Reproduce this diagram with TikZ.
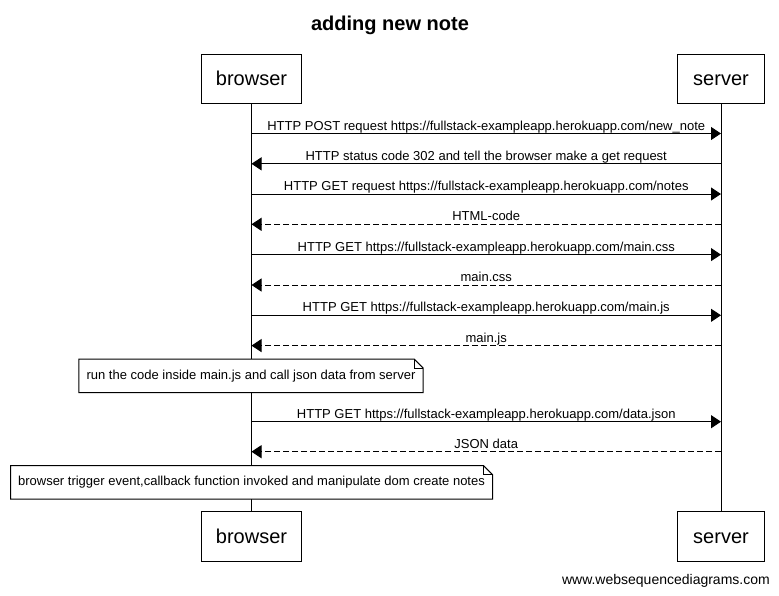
\documentclass[tikz,border=0pt]{standalone}
\usepackage{fontspec}
\setmainfont{Liberation Sans}
\usetikzlibrary{arrows.meta}
\tikzset{
  every picture/.style={x=1pt,y=-1pt},
  actor/.style={draw,line width=1pt,fill=white,minimum height=49.5pt,inner sep=0pt,
    font=\fontsize{20}{24}\selectfont,text height=14pt,text depth=0pt},
  life/.style={line width=1pt},
  msg/.style={line width=1pt,-{Triangle[length=10pt,width=13pt]}},
  reply/.style={msg,dash pattern=on 6pt off 3pt},
  lbl/.style={midway,anchor=base,yshift=3.5pt,inner sep=0pt,font=\fontsize{13}{15}\selectfont},
  notebox/.style={inner sep=0pt,font=\fontsize{13}{15}\selectfont,minimum height=33pt},
}
\newcommand{\notefold}[1]{%
  \draw[line width=1pt,fill=white] (#1.south west) -- (#1.south east) -- ([yshift=-9pt]#1.north east)
    -- ([xshift=-9pt]#1.north east) -- (#1.north west) -- cycle;
  \draw[line width=0.8pt] ([xshift=-9pt]#1.north east) |- ([yshift=-9pt]#1.north east);
}
\begin{document}
\begin{tikzpicture}
\useasboundingbox[fill=white] (0,0) rectangle (779,595);
% title
\node[anchor=base,inner sep=0pt,font=\fontsize{20}{24}\selectfont\bfseries] (title) at (390,30.7) {adding new note};
% participants
\node[actor,minimum width=99.5pt] (btop) at (251.5,78.75) {browser};
\node[actor,minimum width=86.5pt] (stop) at (721,78.75) {server};
\node[actor,minimum width=99.5pt] (bbot) at (251.5,536.5) {browser};
\node[actor,minimum width=86.5pt] (sbot) at (721,536.5) {server};
% lifelines
\draw[life] (btop.south) -- (bbot.north);
\draw[life] (stop.south) -- (sbot.north);
% message end points
\foreach \i/\y in {1/133.5,2/163.8,3/194,4/224.3,5/254.6,6/285,7/315.3,8/345.6,9/421.7,10/451.7}{
  \coordinate (b\i) at (251.5,\y);
  \coordinate (s\i) at (721,\y);
}
\draw[msg] (b1) -- node[lbl] {HTTP POST request https://fullstack-exampleapp.herokuapp.com/new\_note} (s1);
\draw[msg] (s2) -- node[lbl] {HTTP status code 302 and tell the browser make a get request} (b2);
\draw[msg] (b3) -- node[lbl] {HTTP GET request https://fullstack-exampleapp.herokuapp.com/notes} (s3);
\draw[reply] (s4) -- node[lbl] {HTML-code} (b4);
\draw[msg] (b5) -- node[lbl] {HTTP GET https://fullstack-exampleapp.herokuapp.com/main.css} (s5);
\draw[reply] (s6) -- node[lbl] {main.css} (b6);
\draw[msg] (b7) -- node[lbl] {HTTP GET https://fullstack-exampleapp.herokuapp.com/main.js} (s7);
\draw[reply] (s8) -- node[lbl] {main.js} (b8);
% note 1
\node[notebox,minimum width=344pt] (n1) at (251,375.8) {};
\notefold{n1}
\node[inner sep=0pt,font=\fontsize{13}{15}\selectfont] (n1t) at (n1.center) {run the code inside main.js and call json data from server};
\draw[msg] (b9) -- node[lbl] {HTTP GET https://fullstack-exampleapp.herokuapp.com/data.json} (s9);
\draw[reply] (s10) -- node[lbl] {JSON data} (b10);
% note 2
\node[notebox,minimum width=481.6pt] (n2) at (251.5,482.3) {};
\notefold{n2}
\node[inner sep=0pt,font=\fontsize{13}{15}\selectfont] (n2t) at (n2.center) {browser trigger event,callback function invoked and manipulate dom create notes};
% footer
\node[anchor=base east,inner sep=0pt,font=\fontsize{14}{16}\selectfont] (foot) at (770,584) {www.websequencediagrams.com};
\end{tikzpicture}
\end{document}
